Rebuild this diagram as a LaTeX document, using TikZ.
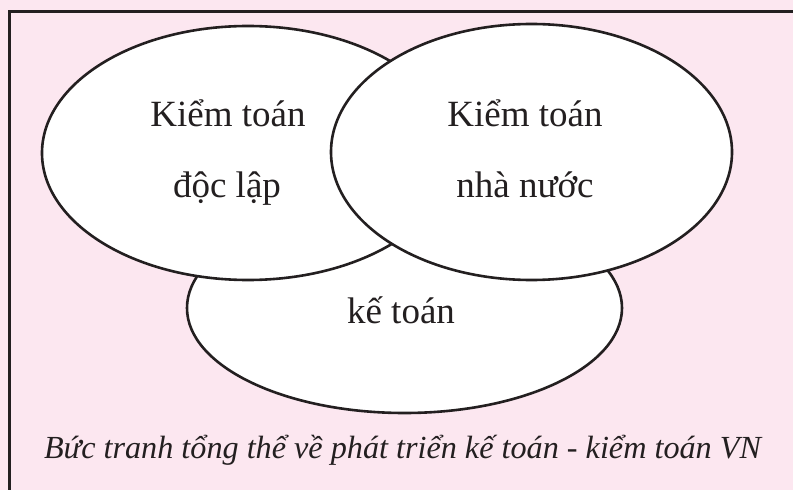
\documentclass[tikz,border=0pt]{standalone}
\usepackage{fontspec}
\setmainfont{Liberation Serif}
\usetikzlibrary{shapes.geometric}
\usepackage{xcolor}
\definecolor{paper}{HTML}{FCE7F0}
\definecolor{ink}{HTML}{231F20}
\tikzset{
  every node/.style={text=ink},
  field/.style={ellipse,draw=ink,line width=2.6bp,fill=white,inner sep=0pt},
  term/.style={anchor=base,font=\fontsize{37bp}{44bp}\selectfont},
  caption/.style={anchor=base,font=\fontsize{32.2bp}{38bp}\selectfont\itshape},
}

\begin{document}
\begin{tikzpicture}[x=1bp,y=-1bp]
\useasboundingbox (0,0) rectangle (793,490);
\fill[paper] (0,0) rectangle (793,490);
\draw[ink,line width=3bp] (9,12) rectangle (830,530);

% --- the three fields, bottom one first
\node[field,minimum width=435bp,minimum height=210bp] (ketoan) at (404.5,308) {};
\node[field,minimum width=412bp,minimum height=254bp] (doclap) at (248,153) {};
\node[field,minimum width=401bp,minimum height=256bp] (nhanuoc) at (531.5,152) {};

% --- labels
\node[term] (doclapA) at (228,127) {Kiểm toán};
\node[term] (doclapB) at (227,198) {độc lập};
\node[term] (nhanuocA) at (525,127) {Kiểm toán};
\node[term] (nhanuocB) at (525,198) {nhà nước};
\node[term] (ketoanA) at (401,323) {kế toán};

\node[caption] (title) at (402.5,458) {Bức tranh tổng thể về phát triển kế toán - kiểm toán VN};

\end{tikzpicture}
\end{document}
